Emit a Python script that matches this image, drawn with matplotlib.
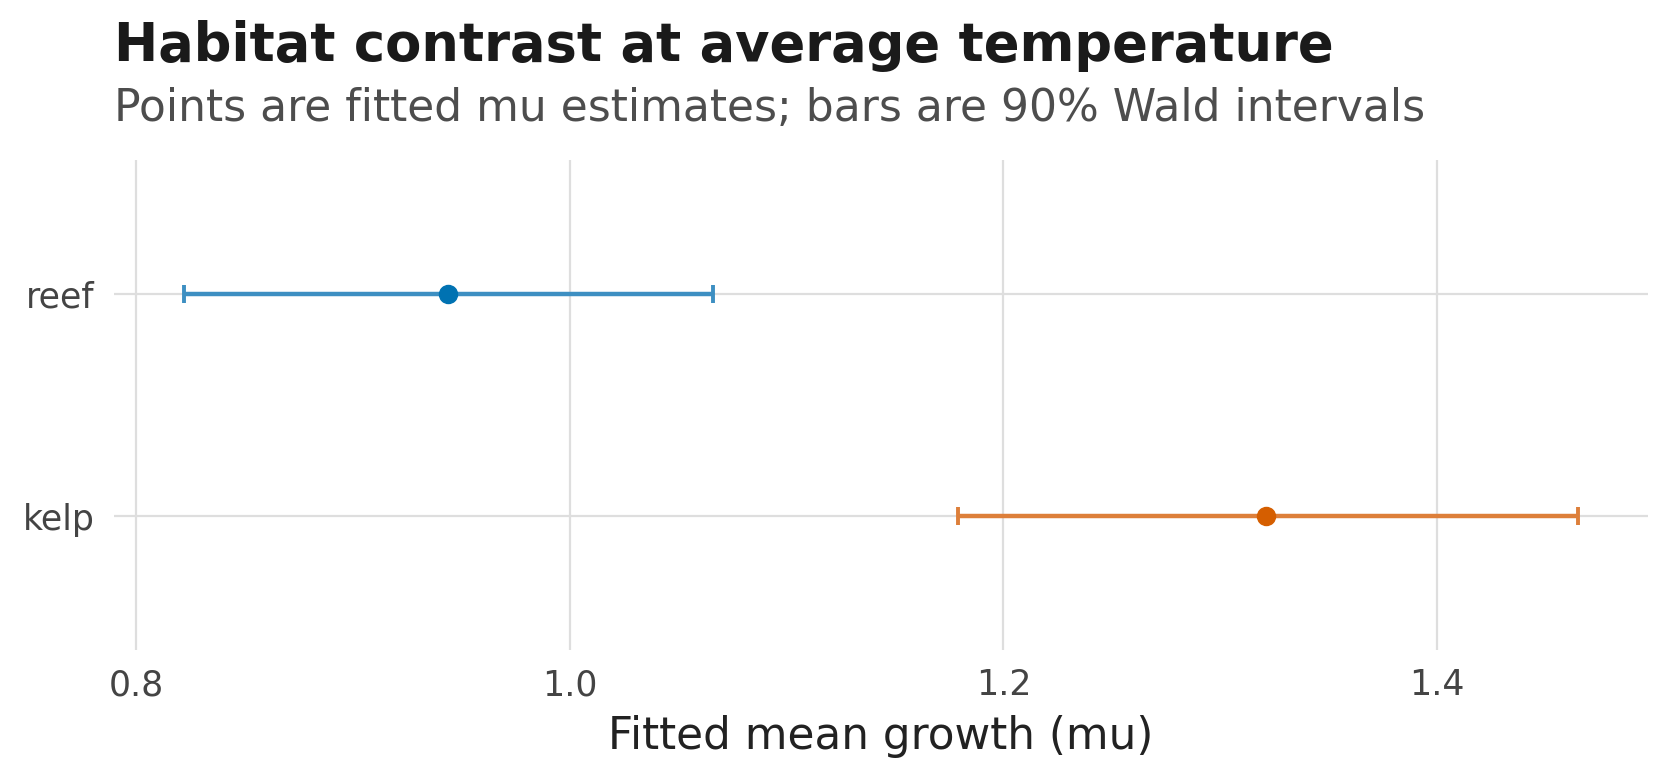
import matplotlib
matplotlib.use("Agg")
import matplotlib.pyplot as plt

# Data
habitats = ["kelp", "reef"]
mu_est = [1.321, 0.944]
ci_low = [1.179, 0.822]
ci_high = [1.465, 1.066]
point_colors = ["#D55E00", "#0072B2"]
bar_colors = ["#DD7F3A", "#3D8FC2"]
x_ticks = [0.8, 1.0, 1.2, 1.4]
x_tick_labels = ["0.8", "1.0", "1.2", "1.4"]

W, H = 1670, 777
fig = plt.figure(figsize=(W / 100, H / 100), dpi=100)
fig.patch.set_facecolor("white")

ax_l, ax_r, ax_t, ax_b = 114.3, 1647.7, 160, 650
ax = fig.add_axes([ax_l / W, 1 - ax_b / H, (ax_r - ax_l) / W, (ax_b - ax_t) / H])

for i, h in enumerate(habitats):
    ax.errorbar(mu_est[i], i, xerr=[[mu_est[i] - ci_low[i]], [ci_high[i] - mu_est[i]]],
                fmt="none", ecolor=bar_colors[i], elinewidth=3.2, capsize=6.5, capthick=2.8, zorder=3)
    ax.plot(mu_est[i], i, "o", color=point_colors[i], markersize=13, zorder=4)

rng = max(ci_high) - min(ci_low)
ax.set_xlim(min(ci_low) - 0.05 * rng, max(ci_high) + 0.05 * rng)
ax.set_ylim(-0.6, 1.6)
ax.set_yticks(range(len(habitats)))
ax.set_yticklabels(habitats)
ax.set_xticks(x_ticks)
ax.set_xticklabels(x_tick_labels)

for s in ax.spines.values():
    s.set_visible(False)
ax.grid(True, color="#dedede", linewidth=1.6)
ax.set_axisbelow(True)
ax.tick_params(axis="both", length=0, labelsize=25, labelcolor="#444444")
ax.tick_params(axis="x", pad=13)
ax.tick_params(axis="y", pad=14)
ax.set_xlabel("Fitted mean growth (mu)", fontsize=31.5, color="#222222", labelpad=9)

fig.text(ax_l / W, 1 - 61 / H, "Habitat contrast at average temperature",
         fontsize=38, fontweight="bold", color="#1a1a1a", ha="left", va="baseline")
fig.text(ax_l / W, 1 - 121 / H, "Points are fitted mu estimates; bars are 90% Wald intervals",
         fontsize=31.7, color="#4d4d4d", ha="left", va="baseline")

fig.savefig("out.png", dpi=100, facecolor="white")
